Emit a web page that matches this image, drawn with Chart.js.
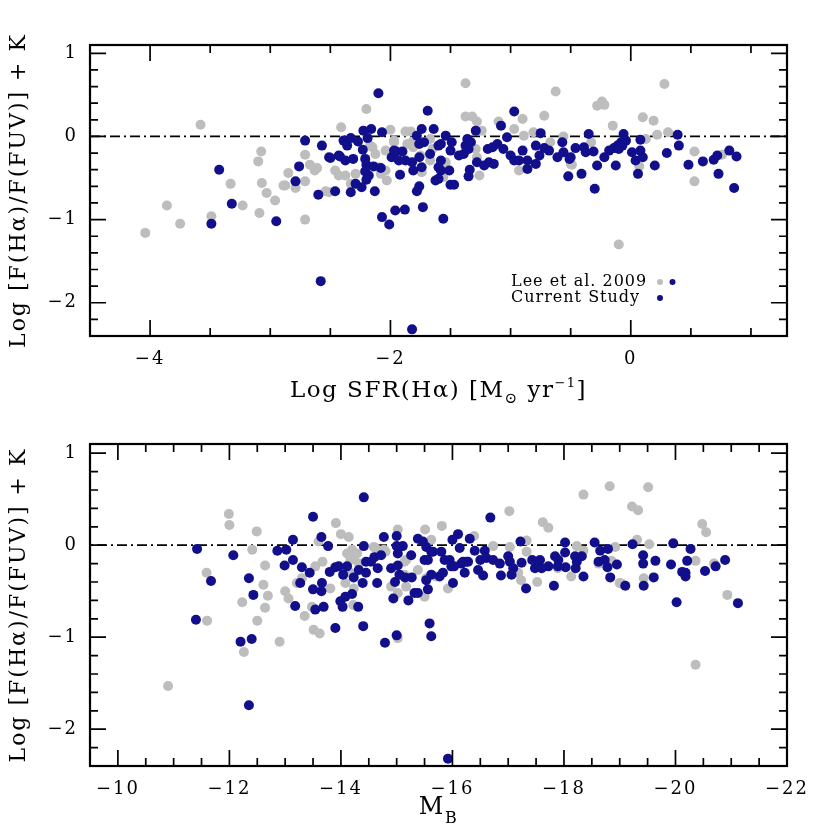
<!DOCTYPE html>
<html>
<head>
<meta charset="utf-8">
<script src="https://cdn.jsdelivr.net/npm/chart.js@4.4.1/dist/chart.umd.min.js"></script>
<style>
body { margin: 0; background: #fff; }
canvas { display: block; }
</style>
</head>
<body>
<canvas id="sfrChart" width="830" height="415"></canvas>
<canvas id="magChart" width="830" height="415"></canvas>
<script>
// top panel: Log SFR(Ha)
const sfrLeeX = [-4.04, -3.86, -3.75, -3.58, -3.49, -3.33, -3.23, -3.10, -3.075, -3.07, -3.09, -3.03, -2.96, -2.875, -2.89, -2.85, -2.79, -2.71, -2.71, -2.71,
  -2.67, -2.63, -2.61, -2.54, -2.51, -2.46, -2.41, -2.375, -2.33, -2.2, -2.17, -2.125, -2.08, -2.03, -2.0, -1.97, -1.875, -1.83, -1.375, -0.625,
  -1.375, -1.32, -1.28, -0.9, -0.72, -1.1, -1.24, -0.97, -0.89, -0.81, -0.56, -1.97, -1.82, -1.67, -2.15, -2.04, -1.29, -1.28, -1.54, -1.54,
  -2.43, -2.29, -2.04, -2.1, -1.74, -1.67, -1.26, -0.93, -0.67, -0.5, -1.86, -1.81, -1.75, -1.65, 0.28, -0.28, -0.24, -0.22, -0.15, 0.1,
  0.19, 0.22, 0.31, -0.33, -0.49, 0.07, 0.125, 0.53, 0.76, 0.53, -0.1, -1.56];
const sfrLeeY = [-1.16, -0.83, -1.05, 0.14, -0.96, -0.57, -0.83, -0.30, -0.18, -0.56, -0.92, -0.68, -0.77, -0.59, -0.59, -0.44, -0.62, -0.22, -0.54, -1.0,
  -0.34, -0.41, -0.38, -0.66, -0.67, -0.41, 0.11, -0.47, -0.57, 0.33, -0.11, -0.21, -0.45, -0.53, 0.08, -0.05, 0.06, 0.06, 0.64, 0.54,
  0.24, 0.24, 0.18, 0.21, 0.25, 0.18, 0.07, 0.09, 0.01, 0.05, 0.0, -0.07, -0.07, -0.03, -0.13, -0.17, -0.15, -0.25, -0.31, -0.39,
  -0.47, -0.45, -0.41, -0.37, -0.43, -0.29, -0.47, -0.41, -0.07, -0.33, -0.09, -0.13, -0.23, -0.15, 0.63, 0.37, 0.42, 0.38, 0.13, 0.23,
  0.19, 0.02, 0.05, -0.07, -0.34, -0.36, -0.03, -0.18, -0.22, -0.54, -1.3, -0.49];

const sfrCurX = [-2.71, -2.57, -2.51, -2.43, -2.76, -2.79, -2.6, -2.46, -3.425, -3.32, -3.49, -2.95, -2.58, -2.1, -1.69, -0.97, -2.225, -2.16, -2.19, -2.07,
  -2.39, -2.36, -2.33, -2.27, -2.23, -2.5, -2.42, -2.375, -2.31, -2.21, -2.2, -2.14, -2.08, -2.21, -2.18, -2.2, -2.29, -2.24, -2.33, -2.13,
  -2.07, -2.01, -1.96, -1.88, -1.73, -1.56, -1.78, -1.76, -1.92, -1.99, -1.95, -1.9, -1.93, -1.875, -1.82, -1.81, -1.76, -1.74, -1.78, -1.74,
  -1.76, -1.72, -1.67, -1.64, -1.6, -1.58, -1.54, -1.49, -1.58, -1.6, -1.58, -1.51, -1.625, -1.6, -1.5, -1.47, -1.5, -1.43, -1.39, -1.375,
  -1.35, -1.36, -1.33, -1.29, -1.34, -1.35, -1.28, -1.22, -1.18, -1.14, -1.19, -1.15, -1.11, -1.08, -1.06, -1.03, -1.0, -0.97, -0.93, -0.9,
  -0.86, -0.86, -0.79, -0.75, -0.76, -0.79, -0.72, -0.68, -0.61, -0.57, -0.56, -0.52, -1.97, -0.35, -0.5, -0.51, -0.46, -0.39, -0.375, -0.31,
  -0.41, -0.3, -0.28, -0.22, -0.18, -0.14, -0.11, -0.1, -0.06, -0.04, -0.08, -0.07, -0.125, 0.01, 0.04, 0.08, 0.1, 0.08, 0.06, 0.2,
  0.3, 0.39, 0.4, 0.48, 0.6, 0.69, 0.72, 0.73, 0.82, 0.88, 0.86, -1.82];
const sfrCurY = [-0.05, -0.11, -0.25, -0.23, -0.36, -0.54, -0.70, -0.66, -0.40, -0.81, -1.05, -1.02, -1.74, 0.52, 0.31, 0.30, 0.07, 0.09, -0.02, 0.05,
  -0.05, -0.11, -0.02, -0.06, -0.16, -0.26, -0.24, -0.29, -0.27, -0.27, -0.34, -0.36, -0.38, -0.42, -0.47, -0.52, -0.57, -0.61, -0.67, -0.66,
  -0.97, -1.06, -0.89, -0.88, -0.85, -0.99, -0.66, -0.6, -0.46, -0.25, -0.18, -0.18, -0.29, -0.29, -0.31, -0.41, -0.25, -0.37, 0.01, 0.09,
  -0.09, -0.07, -0.21, 0.09, -0.11, -0.09, 0.01, -0.07, -0.29, -0.37, -0.41, -0.41, -0.53, -0.51, -0.58, -0.58, -0.17, -0.23, -0.21, -0.11,
  -0.15, -0.03, -0.07, 0.07, -0.40, -0.48, -0.31, -0.35, -0.31, -0.33, -0.15, -0.13, -0.09, 0.13, -0.15, -0.01, -0.23, -0.29, -0.29, -0.17,
  -0.29, -0.39, -0.11, 0.04, -0.23, -0.33, -0.14, -0.17, -0.25, -0.07, -0.19, -0.48, -0.17, 0.03, -0.25, -0.27, -0.14, -0.13, -0.19, -0.18,
  -0.45, -0.63, -0.35, -0.25, -0.17, -0.14, -0.11, -0.15, 0.03, -0.05, -0.07, -0.11, -0.35, -0.19, -0.29, -0.17, -0.25, -0.04, -0.45, -0.35,
  -0.2, 0.02, -0.11, -0.34, -0.3, -0.28, -0.23, -0.45, -0.17, -0.24, -0.62, -2.32];

// bottom panel: M_B
const magLeeX = [-10.9, -11.99, -12.0, -12.49, -12.41, -11.59, -11.6, -12.23, -12.26, -12.64, -12.61, -12.69, -12.64, -12.5, -12.9, -13.0, -13.06, -13.21, -13.3, -13.35,
  -13.48, -13.51, -13.62, -13.54, -13.67, -13.6, -13.81, -13.91, -14.0, -14.14, -14.11, -14.2, -14.23, -14.32, -14.17, -14.08, -14.23, -14.22, -14.59, -14.77,
  -15.02, -14.9, -15.02, -15.17, -15.17, -15.02, -15.51, -15.62, -15.81, -15.38, -15.53, -15.71, -15.92, -15.5, -15.14, -18.82, -19.51, -18.35, -19.22, -19.33,
  -17.02, -17.62, -17.72, -16.39, -16.73, -17.03, -17.33, -17.33, -18.23, -18.35, -18.92, -19.31, -19.53, -17.23, -17.52, -18.13, -19.04, -19.43, -17.89, -17.18,
  -18.62, -18.85, -20.48, -20.55, -20.36, -20.93, -20.36, -20.69, -19.0, -14.17, -14.29, -14.08, -14.62, -14.8, -15.14];
const magLeeY = [-1.53, 0.34, 0.22, 0.15, -0.05, -0.30, -0.82, -0.62, -1.16, -0.22, -0.43, -0.55, -0.68, -0.82, -1.05, -0.5, -0.58, -0.41, -0.36, -0.77,
  -0.67, -0.92, -0.96, -0.23, -0.18, 0.04, -0.47, 0.24, 0.12, 0.09, -0.09, -0.05, -0.14, -0.2, -0.3, -0.41, -0.47, -0.65, -0.02, -0.05,
  0.17, -0.45, -0.52, -0.45, -0.16, -1.01, 0.17, 0.06, 0.21, -0.27, -0.36, -0.34, -0.47, -0.56, -0.18, 0.64, 0.63, 0.55, 0.42, 0.38,
  0.37, 0.25, 0.19, 0.10, -0.01, -0.02, 0.05, -0.07, -0.01, -0.06, -0.02, 0.06, 0.01, -0.38, -0.40, -0.34, -0.42, -0.36, -0.25, -0.30,
  -0.2, -0.17, 0.23, 0.14, -0.17, -0.54, -1.30, -0.20, -0.41, -0.16, -0.09, -0.30, -0.03, -0.07, -0.32];

const magCurX = [-11.42, -11.4, -11.67, -12.07, -12.2, -12.4, -12.35, -12.43, -12.35, -12.86, -13.02, -13.14, -12.99, -13.14, -13.18, -13.3, -13.44, -13.27, -13.5, -13.5,
  -13.66, -13.65, -13.54, -13.69, -13.65, -13.77, -13.8, -13.9, -13.96, -13.9, -13.99, -14.03, -14.08, -14.2, -14.04, -14.11, -14.23, -14.32, -14.39, -14.45,
  -14.31, -14.4, -14.41, -14.41, -14.45, -14.54, -14.6, -14.72, -14.65, -14.66, -14.77, -14.79, -14.9, -15.02, -14.97, -14.94, -15.05, -15.15, -15.27, -15.21,
  -15.32, -15.0, -15.0, -15.02, -15.11, -15.26, -15.0, -15.38, -15.47, -15.53, -15.62, -15.5, -15.56, -15.65, -15.56, -15.62, -15.77, -15.83, -15.8, -15.86,
  -15.95, -15.98, -16.1, -16.0, -16.13, -16.16, -16.22, -16.25, -16.31, -16.01, -15.59, -15.62, -15.38, -15.53, -16.68, -16.03, -16.19, -16.28, -16.4, -16.58,
  -16.5, -16.46, -16.55, -16.61, -16.73, -16.85, -16.87, -17.0, -17.03, -17.09, -17.06, -17.22, -17.24, -17.32, -17.43, -17.51, -17.57, -17.48, -17.6, -17.72,
  -17.84, -17.9, -17.89, -17.82, -18.02, -18.02, -18.03, -18.2, -18.23, -18.21, -18.32, -18.35, -18.55, -18.65, -18.62, -18.73, -18.79, -18.78, -18.83, -18.95,
  -19.1, -19.23, -19.42, -19.42, -19.43, -19.61, -19.64, -19.92, -19.96, -20.02, -20.12, -20.27, -20.18, -20.21, -20.18, -20.53, -20.72, -20.89, -21.12, -15.92];
const magCurY = [-0.04, -0.81, -0.39, -0.11, -1.05, -1.02, -0.36, -0.54, -1.74, -0.06, -0.05, 0.06, -0.22, -0.16, -0.66, -0.24, -0.3, -0.41, 0.31, -0.48,
  -0.41, -0.50, -0.70, -0.67, 0.09, -0.01, -0.29, -0.24, -0.23, -0.90, -0.61, -0.67, -0.56, -0.53, -0.32, -0.23, -0.35, -0.27, -0.41, -0.30,
  -0.67, -0.88, 0.52, -0.01, -0.18, -0.18, -0.13, -0.11, -0.41, -0.25, 0.09, -1.06, -0.25, -0.22, -0.40, -0.58, -0.32, -0.35, -0.35, -0.60,
  -0.52, 0.10, -0.01, -0.09, -0.01, -0.11, -0.98, 0.07, 0.04, -0.02, -0.07, -0.16, -0.16, -0.07, -0.48, -0.32, -0.34, -0.30, -0.07, -0.16,
  -0.16, -0.23, 0.12, 0.06, -0.03, -0.2, -0.3, -0.18, 0.07, -0.41, -0.85, -0.99, -0.52, -0.38, 0.30, -0.23, -0.18, -0.18, -0.06, -0.06,
  -0.16, -0.27, -0.33, -0.14, -0.16, -0.20, -0.33, -0.12, -0.18, -0.25, -0.32, 0.04, -0.19, -0.47, -0.16, -0.18, -0.16, -0.25, -0.25, -0.23,
  -0.12, -0.16, -0.23, -0.44, 0.03, -0.08, -0.24, -0.12, -0.18, -0.25, -0.12, -0.34, 0.03, -0.06, -0.18, -0.16, -0.04, -0.24, -0.35, -0.21,
  -0.44, 0.01, -0.11, -0.2, -0.44, -0.35, -0.17, -0.21, 0.02, -0.62, -0.29, -0.04, -0.30, -0.17, -0.34, -0.28, -0.23, -0.16, -0.63, -2.32];

const yTickValues = [-2, -1, 0, 1];
const sfrTickValues = [-4, -2, 0];
const magTickValues = [-10, -12, -14, -16, -18, -20, -22];

const navy = '#120f8c';
const grey = '#bdbdbd';
const fontFamily = '"DejaVu Serif", serif';

Chart.defaults.font.family = fontFamily;
Chart.defaults.color = '#000';

function toPoints(xs, ys) {
    return xs.map((x, i) => ({ x: x, y: ys[i] }));
}

function minusLabel(v) {
    return v < 0 ? '\u2212' + Math.abs(v) : String(v);
}

// frame, inward ticks on all four sides, x title, optional legend
const framePlugin = {
    id: 'frame',
    beforeDraw(chart) {
        chart.ctx.letterSpacing = '2px';
    },
    afterDraw(chart, args, opts) {
        const ctx = chart.ctx;
        const a = chart.chartArea;
        const xs = chart.scales.x;
        const ys = chart.scales.y;
        ctx.save();
        ctx.strokeStyle = '#000';
        ctx.lineWidth = 1.7;
        ctx.beginPath();
        const lo = Math.min(xs.min, xs.max), hi = Math.max(xs.min, xs.max);
        for (let i = Math.ceil(lo / opts.xMinor - 1e-9); i * opts.xMinor <= hi + 1e-9; i++) {
            const v = i * opts.xMinor;
            const p = xs.getPixelForValue(v);
            const major = Math.abs(v / opts.xMajor - Math.round(v / opts.xMajor)) < 1e-6;
            const len = major ? 16 : 8;
            ctx.moveTo(p, a.bottom); ctx.lineTo(p, a.bottom - len);
            ctx.moveTo(p, a.top); ctx.lineTo(p, a.top + len);
        }
        for (let i = Math.ceil(ys.min / opts.yMinor - 1e-9); i * opts.yMinor <= ys.max + 1e-9; i++) {
            const v = i * opts.yMinor;
            const p = ys.getPixelForValue(v);
            const major = Math.abs(v - Math.round(v)) < 1e-6;
            const len = major ? 16 : 8;
            ctx.moveTo(a.left, p); ctx.lineTo(a.left + len, p);
            ctx.moveTo(a.right, p); ctx.lineTo(a.right - len, p);
        }
        ctx.stroke();
        ctx.lineWidth = 2.2;
        ctx.strokeRect(a.left, a.top, a.right - a.left, a.bottom - a.top);

        // x axis title with sub/superscripts
        ctx.fillStyle = '#000';
        ctx.textBaseline = 'middle';
        ctx.textAlign = 'left';
        ctx.letterSpacing = '1.5px';
        let total = 0;
        opts.title.forEach(p => {
            ctx.font = p.size + 'px ' + fontFamily;
            p.w = ctx.measureText(p.text).width;
            total += p.w;
        });
        let tx = (a.left + a.right) / 2 - total / 2;
        const ty = a.bottom + opts.titleOffset;
        opts.title.forEach(p => {
            ctx.font = p.size + 'px ' + fontFamily;
            ctx.fillText(p.text, tx, ty + (p.dy || 0));
            tx += p.w;
        });

        if (opts.legend) {
            ctx.font = '16px ' + fontFamily;
            ctx.letterSpacing = '1px';
            opts.legend.forEach((row, r) => {
                const ly = a.bottom - 54 + r * 16;
                ctx.fillStyle = '#000';
                ctx.fillText(row.label, a.right - 276, ly);
                row.colors.forEach((c, k) => {
                    ctx.fillStyle = c;
                    ctx.beginPath();
                    ctx.arc(a.right - 127 + k * 12.5, ly, 3, 0, Math.PI * 2);
                    ctx.fill();
                });
            });
        }
        ctx.restore();
    }
};

function makePanel(id, cfg) {
    const ctx = document.getElementById(id).getContext('2d');
    new Chart(ctx, {
        type: 'scatter',
        data: {
            datasets: [{
                label: 'Current Study',
                data: toPoints(cfg.curX, cfg.curY),
                backgroundColor: navy,
                pointRadius: 5,
                pointHoverRadius: 5,
                pointBorderWidth: 0
            }, {
                label: 'Lee et al. 2009',
                data: toPoints(cfg.leeX, cfg.leeY),
                backgroundColor: grey,
                pointRadius: 5,
                pointHoverRadius: 5,
                pointBorderWidth: 0
            }, {
                label: 'zero',
                data: [{ x: cfg.xMin, y: 0 }, { x: cfg.xMax, y: 0 }],
                showLine: true,
                borderColor: '#000',
                borderWidth: 1.8,
                borderDash: [10, 4, 2, 4],
                pointRadius: 0
            }]
        },
        options: {
            responsive: false,
            animation: false,
            events: [],
            layout: { padding: { left: 0, right: 43, top: cfg.padTop, bottom: 0 } },
            plugins: {
                legend: { display: false },
                tooltip: { enabled: false },
                frame: {
                    xMinor: 0.5, xMajor: 2, yMinor: 0.2,
                    title: cfg.title, titleOffset: cfg.titleOffset,
                    legend: cfg.legend
                }
            },
            scales: {
                x: {
                    type: 'linear',
                    min: cfg.xMin,
                    max: cfg.xMax,
                    reverse: cfg.reverse,
                    grid: { display: false, drawTicks: false },
                    border: { display: false },
                    afterBuildTicks: scale => { scale.ticks = cfg.xTicks.map(v => ({ value: v })); },
                    afterFit: scale => { scale.height = cfg.xAxisHeight; },
                    ticks: { padding: 13, font: { size: 18 }, maxRotation: 0, callback: minusLabel }
                },
                y: {
                    type: 'linear',
                    min: -2.4,
                    max: 1.1,
                    grid: { display: false, drawTicks: false },
                    border: { display: false },
                    afterBuildTicks: scale => { scale.ticks = yTickValues.map(v => ({ value: v })); },
                    afterFit: scale => { scale.width = 90; },
                    ticks: { padding: 12, font: { size: 18 }, callback: minusLabel },
                    title: {
                        display: true,
                        text: 'Log [F(H\u03b1)/F(FUV)] + K',
                        font: { size: 22 },
                        padding: { top: 6, bottom: 0 }
                    }
                }
            }
        },
        plugins: [framePlugin]
    });
}

makePanel('sfrChart', {
    leeX: sfrLeeX, leeY: sfrLeeY, curX: sfrCurX, curY: sfrCurY,
    xMin: -4.5, xMax: 1.3, reverse: false, xTicks: sfrTickValues,
    padTop: 45, xAxisHeight: 79, titleOffset: 55,
    title: [
        { text: 'Log SFR(H\u03b1) [M', size: 23 },
        { text: '\u2299', size: 15, dy: 8 },
        { text: ' yr', size: 23 },
        { text: '\u22121', size: 13, dy: -7 },
        { text: ']', size: 23 }
    ],
    legend: [
        { label: 'Lee et al. 2009', colors: [grey, navy] },
        { label: 'Current Study', colors: [navy] }
    ]
});

makePanel('magChart', {
    leeX: magLeeX, leeY: magLeeY, curX: magCurX, curY: magCurY,
    xMin: -22, xMax: -9.5, reverse: true, xTicks: magTickValues,
    padTop: 29, xAxisHeight: 64, titleOffset: 42,
    title: [
        { text: 'M', size: 24 },
        { text: 'B', size: 16, dy: 11 }
    ]
});
</script>
</body>
</html>
